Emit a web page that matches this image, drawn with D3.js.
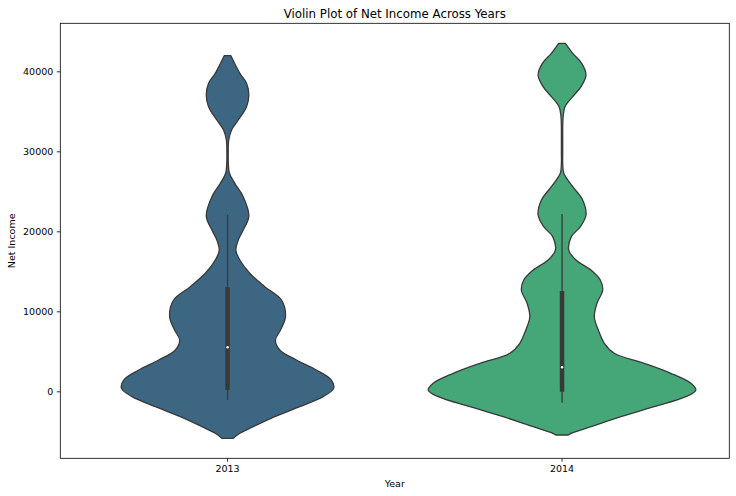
<!DOCTYPE html>
<html>
<head>
<meta charset="utf-8">
<script src="https://cdn.jsdelivr.net/npm/d3@7"></script>
<style>
  html, body { margin: 0; padding: 0; background: #fff; }
  svg { display: block; font-family: "DejaVu Sans", sans-serif; }
</style>
</head>
<body>
<svg id="chart" width="736" height="496"></svg>
<script>
// ---- Data ----
const years = ["2013", "2014"];
const yTicks = [0, 10000, 20000, 30000, 40000];
const fillColors = ["#3d6682", "#45a778"];

// Density profiles (net income value -> relative density)
const values2013 = [-5880, -5250, -4420, -3170, -1920, -670, 370, 1410, 2660, 3910, 5160, 6410, 7660, 9330, 11410, 13080, 14750, 16410, 17660, 18910, 20160, 21900, 24330, 26000, 27250, 28500, 29800, 31410, 32660, 33910, 35580, 37040, 38500, 39750, 41950];
const density2013 = [0.043, 0.092, 0.192, 0.353, 0.540, 0.714, 0.793, 0.776, 0.664, 0.515, 0.390, 0.358, 0.396, 0.433, 0.403, 0.278, 0.166, 0.092, 0.062, 0.080, 0.117, 0.159, 0.117, 0.054, 0.014, 0.006, 0.005, 0.009, 0.030, 0.080, 0.142, 0.159, 0.142, 0.092, 0.025];

const values2014 = [-5460, -5170, -4420, -3170, -1920, -670, 160, 1000, 2250, 3500, 4750, 6000, 7660, 9330, 11000, 12660, 13910, 15160, 16410, 17660, 19330, 20580, 22040, 23910, 25580, 27250, 28500, 30000, 31500, 33000, 34330, 35580, 36830, 38080, 39540, 41000, 42250, 43500];
const density2014 = [0.047, 0.080, 0.216, 0.440, 0.689, 0.925, 1.000, 0.963, 0.813, 0.614, 0.390, 0.316, 0.271, 0.241, 0.261, 0.304, 0.286, 0.216, 0.104, 0.050, 0.070, 0.137, 0.179, 0.154, 0.080, 0.013, 0.005, 0.005, 0.005, 0.005, 0.008, 0.022, 0.080, 0.142, 0.179, 0.147, 0.080, 0.025];

// Box statistics per year
const whiskerLow = [-1090, -1420];
const q1 = [160, -50];
const medians = [5500, 3000];
const q3 = [13000, 12540];
const whiskerHigh = [22040, 22160];

const profiles = [
  values2013.map((v, i) => ({ v, d: density2013[i] })),
  values2014.map((v, i) => ({ v, d: density2014[i] }))
];

// ---- Layout ----
const W = 736, H = 496;
const margin = { left: 60.3, right: W - 729.3, top: 23.3, bottom: H - 458.3 };
const svg = d3.select("#chart");

const x = d3.scaleBand().domain(years).range([margin.left, W - margin.right]);
const y = d3.scaleLinear().domain([-8375, 46000]).range([H - margin.bottom, margin.top]);
const maxDensity = d3.max([...density2013, ...density2014]);
const w = d3.scaleLinear().domain([0, maxDensity]).range([0, x.bandwidth() * 0.4]);

const edge = "#393939";

// ---- Violins ----
years.forEach((yr, i) => {
  const cx = x(yr) + x.bandwidth() / 2;
  const area = d3.area()
    .y(d => y(d.v))
    .x0(d => cx - w(d.d))
    .x1(d => cx + w(d.d))
    .curve(d3.curveCatmullRom.alpha(0.5));
  svg.append("path")
    .datum(profiles[i])
    .attr("d", area)
    .attr("fill", fillColors[i])
    .attr("stroke", edge)
    .attr("stroke-width", 1.3)
    .attr("stroke-linejoin", "round");

  // whisker
  svg.append("line")
    .attr("x1", cx).attr("x2", cx)
    .attr("y1", y(whiskerLow[i])).attr("y2", y(whiskerHigh[i]))
    .attr("stroke", edge).attr("stroke-width", 1.3);
  // box
  svg.append("line")
    .attr("x1", cx).attr("x2", cx)
    .attr("y1", y(q1[i])).attr("y2", y(q3[i]))
    .attr("stroke", edge).attr("stroke-width", 4.5);
  // median
  svg.append("circle")
    .attr("cx", cx).attr("cy", y(medians[i]))
    .attr("r", 1.2).attr("fill", "#fff");
});

// ---- Axes ----
const yAxis = d3.axisLeft(y).tickValues(yTicks).tickSize(3.5).tickPadding(3.5).tickFormat(d3.format("d"));
const gy = svg.append("g").attr("transform", `translate(${margin.left},0)`).call(yAxis);
gy.select(".domain").remove();

const xAxis = d3.axisBottom(x).tickSize(3.5).tickPadding(3);
const gx = svg.append("g").attr("transform", `translate(0,${H - margin.bottom})`).call(xAxis);
gx.select(".domain").remove();

[gx, gy].forEach(g => {
  g.selectAll("text").attr("font-size", 9.5).attr("fill", "#000").attr("font-family", "DejaVu Sans");
  g.selectAll("line").attr("stroke", "#000").attr("stroke-width", 0.8);
});

// frame (spines)
svg.append("rect")
  .attr("x", margin.left).attr("y", margin.top)
  .attr("width", W - margin.left - margin.right)
  .attr("height", H - margin.top - margin.bottom)
  .attr("fill", "none").attr("stroke", "#000").attr("stroke-width", 0.8);

// ---- Labels ----
const cxAxes = (margin.left + W - margin.right) / 2;
svg.append("text")
  .attr("x", cxAxes).attr("y", 18.3)
  .attr("text-anchor", "middle").attr("font-size", 11.8).attr("fill", "#000")
  .text("Violin Plot of Net Income Across Years");

svg.append("text")
  .attr("x", cxAxes).attr("y", 486.7)
  .attr("text-anchor", "middle").attr("font-size", 9.5).attr("fill", "#000")
  .text("Year");

svg.append("text")
  .attr("transform", `translate(14.5,${(margin.top + H - margin.bottom) / 2}) rotate(-90)`)
  .attr("text-anchor", "middle").attr("font-size", 9.5).attr("fill", "#000")
  .text("Net Income");
</script>
</body>
</html>
